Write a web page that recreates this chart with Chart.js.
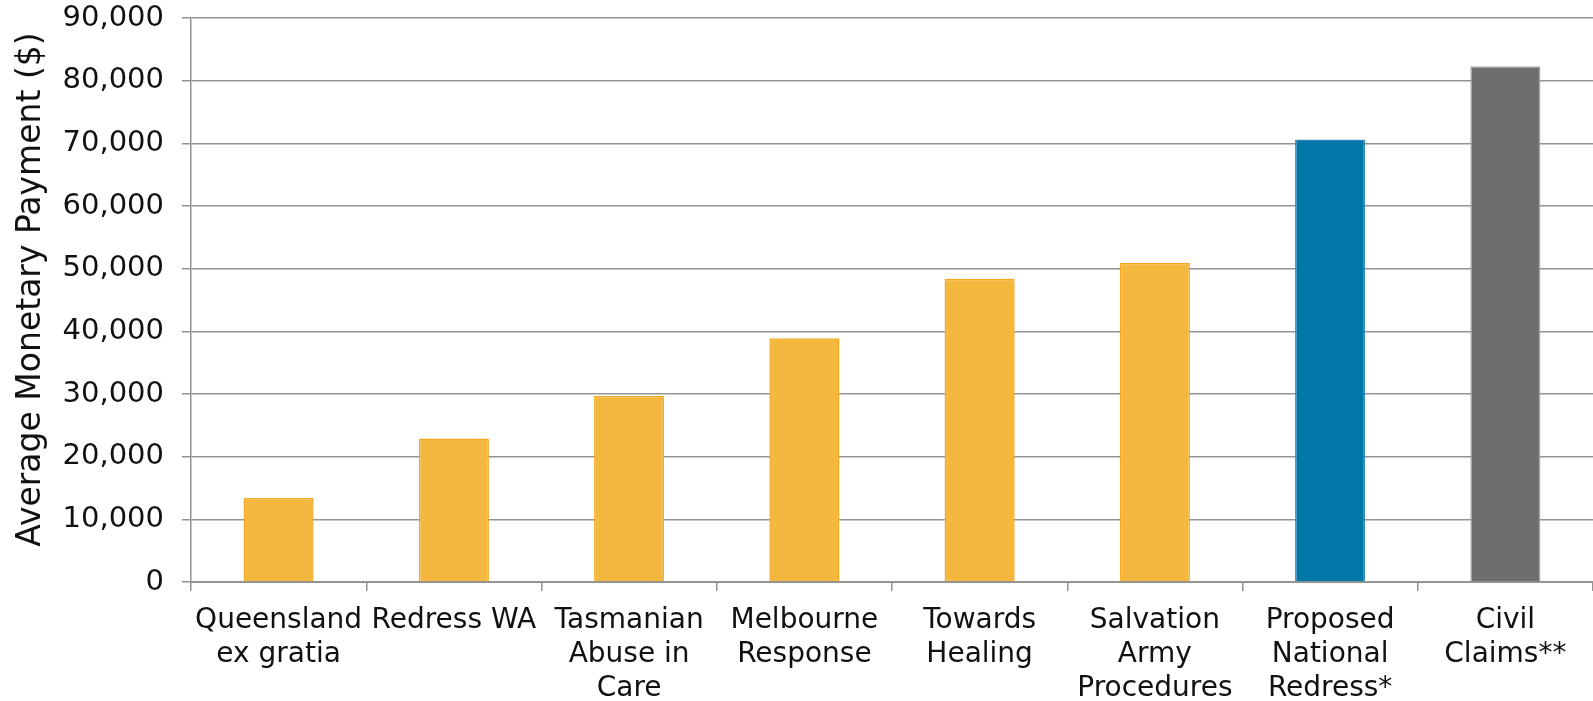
<!DOCTYPE html>
<html>
<head>
<meta charset="utf-8">
<script src="https://cdn.jsdelivr.net/npm/chart.js@4"></script>
<style>
  html, body { margin: 0; padding: 0; background: #fff; }
  #wrap { width: 1593px; height: 701px; }
</style>
</head>
<body>
<div id="wrap"><canvas id="payments" width="1593" height="701"></canvas></div>
<script>
const schemes = [
    ['Queensland', 'ex gratia'],
    'Redress WA',
    ['Tasmanian', 'Abuse in', 'Care'],
    ['Melbourne', 'Response'],
    ['Towards', 'Healing'],
    ['Salvation', 'Army', 'Procedures'],
    ['Proposed', 'National', 'Redress*'],
    ['Civil', 'Claims**']
]
const avgPayment = [13400, 22900, 29700, 38900, 48400, 50900, 70600, 82300]
const fillColours = ['#f3b83d', '#f3b83d', '#f3b83d', '#f3b83d', '#f3b83d', '#f3b83d', '#0077a6', '#6e6e6e']
const edgeColours = ['#f5a81f', '#f5a81f', '#f5a81f', '#f5a81f', '#f5a81f', '#f5a81f', '#3b82c4', '#a3a3a3']

const font = 'DejaVu Sans'
const gridGrey = '#939393'

const ctx = document.getElementById('payments')
const paymentChart = new Chart(ctx, {
    type: 'bar',
    data: {
        labels: schemes,
        datasets: [{
            label: 'Average Monetary Payment ($)',
            data: avgPayment,
            backgroundColor: fillColours,
            borderColor: edgeColours,
            borderWidth: 1.5,
            barPercentage: 0.4,
            categoryPercentage: 1
        }]
    },
    options: {
        responsive: false,
        animation: false,
        layout: { padding: { top: 18, right: 0, bottom: 0, left: 0 } },
        plugins: {
            legend: { display: false },
            tooltip: { enabled: false }
        },
        scales: {
            x: {
                grid: { drawOnChartArea: false, drawTicks: true, tickLength: 9, color: gridGrey, lineWidth: 1.5 },
                border: { color: gridGrey, width: 2 },
                ticks: {
                    color: '#111',
                    padding: 12,
                    maxRotation: 0,
                    autoSkip: false,
                    font: { family: font, size: 28, lineHeight: 1.23 }
                },
                afterFit: scale => { scale.height = 119 }
            },
            y: {
                min: 0,
                max: 90000,
                grid: { color: gridGrey, lineWidth: 1.5, tickLength: 9 },
                border: { color: gridGrey, width: 1.5 },
                ticks: {
                    stepSize: 10000,
                    color: '#111',
                    padding: 18,
                    font: { family: font, size: 29 },
                    callback: v => v.toLocaleString('en-US')
                },
                title: {
                    display: true,
                    text: '  Average Monetary Payment ($)',
                    color: '#111',
                    padding: { top: 12, bottom: 0 },
                    font: { family: font, size: 33 }
                },
                afterFit: scale => {
                    scale.width = 191
                    scale.paddingTop = 0
                    scale.paddingBottom = 0
                }
            }
        }
    }
})
</script>
</body>
</html>
